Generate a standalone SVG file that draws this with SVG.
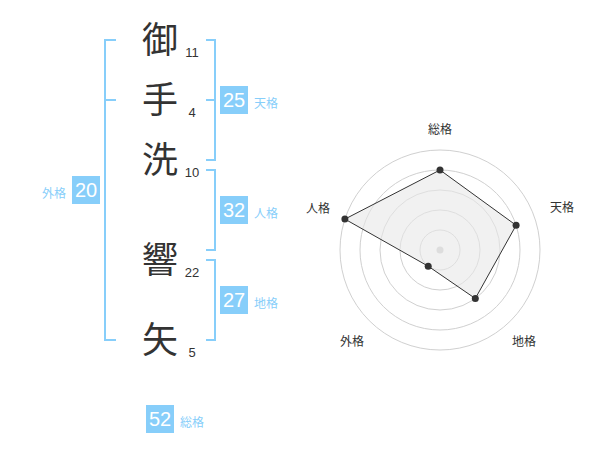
<svg xmlns="http://www.w3.org/2000/svg" width="600" height="470" viewBox="0 0 600 470">
<style>
.ch{font-family:"Noto Sans CJK JP","Noto Sans CJK SC",sans-serif;font-size:36px;fill:#333;text-anchor:middle}
.num{font-family:"Liberation Sans","Noto Sans CJK JP",sans-serif;font-size:13px;fill:#333;text-anchor:middle}
.br{fill:none;stroke:#87cefa;stroke-width:2}
.box{fill:#87cefa}
.bn{font-family:"Liberation Sans",sans-serif;font-size:20px;fill:#fff;text-anchor:middle}
.lb{font-family:"Noto Sans CJK JP",sans-serif;font-size:12px;fill:#87cefa}
.ring{fill:none;stroke:#d0d0d0;stroke-width:1}
.rl{font-family:"Noto Sans CJK JP",sans-serif;font-size:12px;fill:#333;text-anchor:middle}
</style>
<rect width="600" height="470" fill="#fff"/>
<g id="name">
<g id="c1"><text class="ch" x="160" y="53">御</text><text class="num" x="192" y="57">11</text></g>
<g id="c2"><text class="ch" x="160" y="113">手</text><text class="num" x="192" y="117">4</text></g>
<g id="c3"><text class="ch" x="160" y="173">洗</text><text class="num" x="192" y="177">10</text></g>
<g id="c4"><text class="ch" x="160" y="273">響</text><text class="num" x="192" y="277">22</text></g>
<g id="c5"><text class="ch" x="160" y="353">矢</text><text class="num" x="192" y="357">5</text></g>
</g>
<g id="connectors">
<path class="br" d="M116,40 H105 V340 H116 M105,100 H116"/>
<path class="br" d="M206,40 H215 V160 H206 M215,100 H206"/>
<path class="br" d="M206,170 H215 V250 H206"/>
<path class="br" d="M206,260 H215 V340 H206"/>
</g>
<g id="tenkaku"><rect class="box" x="220" y="86" width="28" height="28"/><text class="bn" x="234" y="107">25</text><text class="lb" x="254" y="108">天格</text></g>
<g id="jinkaku"><rect class="box" x="220" y="196" width="28" height="28"/><text class="bn" x="234" y="217">32</text><text class="lb" x="254" y="218">人格</text></g>
<g id="chikaku"><rect class="box" x="220" y="286" width="28" height="28"/><text class="bn" x="234" y="307">27</text><text class="lb" x="254" y="308">地格</text></g>
<g id="gaikaku"><rect class="box" x="72" y="176" width="28" height="28"/><text class="bn" x="86" y="197">20</text><text class="lb" x="66" y="198" text-anchor="end">外格</text></g>
<g id="soukaku"><rect class="box" x="146" y="405" width="28" height="28"/><text class="bn" x="160" y="426">52</text><text class="lb" x="180" y="427">総格</text></g>
<g id="radar">
<circle class="ring" cx="440" cy="250" r="20"/>
<circle class="ring" cx="440" cy="250" r="40"/>
<circle class="ring" cx="440" cy="250" r="60"/>
<circle class="ring" cx="440" cy="250" r="80"/>
<circle class="ring" cx="440" cy="250" r="100"/>
<circle cx="440" cy="250" r="3.5" fill="#ccc"/>
<polygon points="440,170 516.1,225.3 475.3,298.5 428.2,266.2 344.9,219.1" fill="#e8e8e8" fill-opacity="0.6" stroke="#333" stroke-width="1"/>
<g fill="#333">
<circle cx="440" cy="170" r="3.5"/>
<circle cx="516.1" cy="225.3" r="3.5"/>
<circle cx="475.3" cy="298.5" r="3.5"/>
<circle cx="428.2" cy="266.2" r="3.5"/>
<circle cx="344.9" cy="219.1" r="3.5"/>
</g>
<text class="rl" x="440" y="134">総格</text>
<text class="rl" x="562" y="212">天格</text>
<text class="rl" x="524" y="346">地格</text>
<text class="rl" x="352" y="346">外格</text>
<text class="rl" x="318" y="213">人格</text>
</g>
</svg>
